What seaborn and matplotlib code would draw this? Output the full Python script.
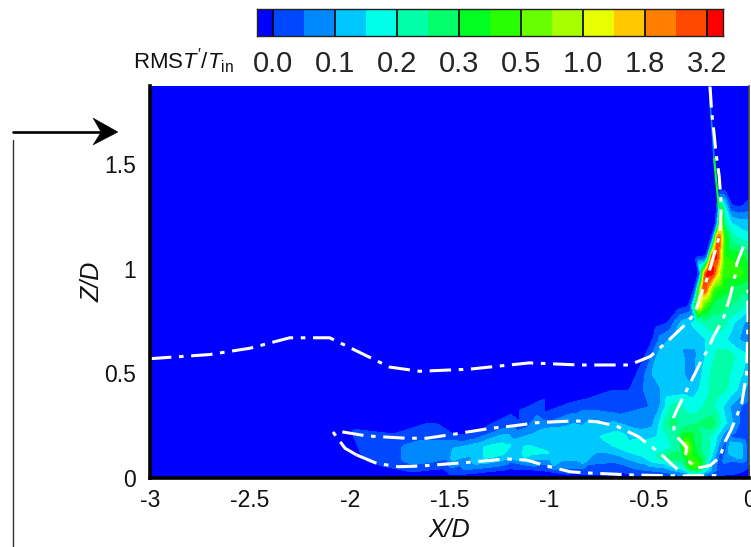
#!/usr/bin/env python
# -*- coding: utf-8 -*-

import numpy as np
import pandas as pd
import matplotlib
matplotlib.use("Agg")
import matplotlib.pyplot as plt
import matplotlib.tri as mtri
from matplotlib.colors import ListedColormap
from matplotlib.lines import Line2D
from matplotlib.patches import Polygon
from matplotlib.ticker import MultipleLocator
import seaborn as sns

W, H = 751, 547

band_colors = ["#0000ff", "#0048ff", "#0088ff", "#00c8ff", "#00ffe8", "#00ffa8",
               "#00ff68", "#00ff20", "#28ff00", "#68ff00", "#a8ff00", "#e8ff00",
               "#ffc800", "#ff8000", "#ff4800", "#ff0000"]
bar_labels = ["0.0", "0.1", "0.2", "0.3", "0.5", "1.0", "1.8", "3.2"]

# colour band, row by row (z, x positions, band number)
row_z = [0.0, 0.035, 0.065, 0.1, 0.15, 0.2, 0.26, 0.34, 0.42, 0.5, 0.58, 0.66, 0.74,
         0.82, 0.9, 0.98, 1.06, 1.14, 1.22, 1.3, 1.38, 1.87]
row_x = [
    [-3, -1.5, -0.6, -0.4, -0.3, -0.25, -0.2, 0],
    [-0.83, -0.5, -0.33, -0.26, -0.2, -0.15, 0],
    [-0.83, -0.5, -0.33, -0.285, -0.25, -0.2, -0.15, -0.05, 0],
    [-0.83, -0.53, -0.43, -0.396, -0.33, -0.296, -0.262, -0.212, -0.18, -0.146, -0.112, -0.045, 0],
    [-0.75, -0.66, -0.63, -0.53, -0.42, -0.345, -0.32, -0.262, -0.18, -0.146, -0.12, -0.087, -0.05, 0],
    [-0.83, -0.75, -0.66, -0.53, -0.46, -0.38, -0.33, -0.295, -0.262, -0.212, -0.146, -0.112, -0.062, 0],
    [-0.83, -0.5, -0.46, -0.42, -0.38, -0.33, -0.262, -0.18, -0.13, -0.095, -0.05, 0],
    [-0.83, -0.7, -0.5, -0.445, -0.42, -0.38, -0.33, -0.262, -0.2, -0.13, -0.095, -0.045, 0],
    [-1.0, -0.6, -0.53, -0.44, -0.3, -0.25, -0.196, -0.16, -0.11, -0.06, -0.02, 0],
    [-3, -0.66, -0.56, -0.52, -0.49, -0.34, -0.31, -0.28, -0.26, -0.21, -0.18, -0.12, -0.07, -0.03, 0],
    [-0.6, -0.52, -0.49, -0.45, -0.34, -0.31, -0.28, -0.25, -0.19, -0.15, -0.12, -0.07, -0.03, 0],
    [-0.56, -0.48, -0.44, -0.37, -0.25, -0.18, -0.11, -0.05, 0],
    [-0.48, -0.41, -0.38, -0.33, -0.26, -0.2, -0.13, -0.1, -0.05, 0],
    [-0.36, -0.3, -0.285, -0.265, -0.25, -0.22, -0.18, -0.1, -0.05, 0],
    [-0.33, -0.27, -0.255, -0.24, -0.225, -0.205, -0.18, -0.13, -0.05, 0],
    [-0.3, -0.247, -0.235, -0.225, -0.21, -0.18, -0.16, -0.13, -0.05, 0],
    [-0.27, -0.21, -0.2, -0.19, -0.18, -0.16, -0.145, -0.12, -0.05, 0],
    [-0.24, -0.185, -0.17, -0.16, -0.145, -0.125, -0.08, 0],
    [-0.21, -0.16, -0.15, -0.14, -0.125, -0.09, -0.05, 0],
    [-0.2, -0.155, -0.145, -0.125, -0.09, -0.055, -0.02, 0],
    [-0.18, -0.14, -0.115, 0],
    [-3, -0.5, 0],
]
row_band = [
    [0, 0, 0, 0.3, 1, 1, 0.3, 0],
    [1, 1.5, 3, 6, 3, 1, 0.3],
    [2.5, 3, 5, 9, 8, 3, 1, 1, 0.7],
    [3, 3.5, 5, 6, 6, 8, 7, 5, 3, 1, 2, 3, 1],
    [3, 3.6, 4, 3.6, 4, 5, 10, 6, 4, 2, 1, 3.5, 3.5, 1],
    [3, 3.5, 4, 3.4, 3.5, 5, 7, 7, 6, 5, 3, 1.5, 1, 0.3],
    [2.4, 2, 3, 5, 6, 5, 5.5, 6, 4, 3, 1.5, 1],
    [1, 1, 1.5, 2.5, 3.5, 5, 4.5, 4, 5, 3.5, 2.5, 1.5, 1],
    [0, 0.5, 1.5, 2.5, 3, 3.5, 4.5, 5, 4.5, 3.5, 2.5, 2],
    [0, 0, 0.5, 1.5, 2.5, 3, 2, 2, 3, 4, 5, 5, 4, 3.5, 3],
    [0, 0.5, 1.5, 3, 3, 2, 2, 3, 4, 5, 5.5, 4.5, 4, 3],
    [0, 0.5, 2, 3, 3, 4, 3.5, 2.5, 2],
    [0, 0.5, 1.5, 3, 4, 5, 5, 4, 3, 2],
    [0, 0.5, 3, 8, 12, 8, 6, 5.5, 5, 4],
    [0, 0.5, 6, 12, 15, 12, 8, 7, 6, 6],
    [0, 0.5, 7, 13, 15, 15, 12, 8, 8, 7],
    [0, 0.5, 7, 13, 15, 15, 12, 7.5, 7, 6],
    [0, 0.5, 9, 15, 14, 8, 5, 4],
    [0, 0.5, 8, 11, 5, 3.5, 3, 3],
    [0, 0.5, 7, 4, 0.6, 0.3, 0.6, 0.8],
    [0, 0.3, 0, 0],
    [0, 0, 0],
]

# long thin plume on the left, points traced along the band edges
plume_x = [-2.081, -1.98, -1.78, -1.48, -1.397, -1.146, -1.03, -0.896, -0.83, -0.596,
           -2.031, -1.915, -1.815, -1.531, -1.197, -1.031, -0.9,
           -1.84, -1.73, -1.48, -1.18, -1.06, -0.83,
           -1.73, -1.447, -1.197, -1.114, -0.9,
           -1.664, -1.48, -1.18, -1.08, -1.03, -0.846, -0.546,
           -1.48, -1.197, -1.097, -0.98,
           -1.48, -1.33, -1.18, -1.113, -0.98, -1.33, -1.23, -1.13,
           -0.87, -0.78, -0.729,
           -1.25, -1.1,
           -2.3, -2.2, -2.0, -1.6, -1.2, -1.0, -2.2, -1.7, -1.2]
plume_z = [0.213, 0.232, 0.21, 0.205, 0.205, 0.269, 0.309, 0.357, 0.373, 0.421,
           0.15, 0.086, 0.054, 0.046, 0.078, 0.038, 0.02,
           0.118, 0.158, 0.181, 0.253, 0.301, 0.325,
           0.078, 0.062, 0.078, 0.062, 0.045,
           0.102, 0.142, 0.182, 0.213, 0.237, 0.253, 0.23,
           0.078, 0.086, 0.07, 0.054,
           0.118, 0.15, 0.173, 0.157, 0.118, 0.09, 0.11, 0.094,
           0.213, 0.232, 0.181,
           0.14, 0.125,
           0.2, 0.1, 0.3, 0.3, 0.33, 0.42, 0.02, 0.01, 0.03]
plume_band = [0.5, 0.5, 0.5, 0.5, 0.5, 0.5, 0.5, 0.5, 0.5, 0.5,
              0.5, 0.5, 0.5, 0.5, 0.5, 0.5, 0.5,
              1.5, 1.5, 1.5, 1.5, 1.5, 1.5,
              1.5, 1.5, 1.5, 1.5, 1.5,
              2.5, 2.5, 2.5, 2.5, 2.5, 2.5, 2.5,
              2.5, 2.5, 2.5, 2.5,
              3.5, 3.5, 3.5, 3.5, 3.5, 3.5, 3.5, 3.5,
              3.5, 3.5, 3.5,
              4.2, 4,
              0, 0, 0, 0, 0, 0, 0, 0, 0]

# thin coloured streaks running along the upper white curve
green_streak_x = [-0.152, -0.175]
green_streak_z = [1.3, 1.53]
blue_streak_x = [-0.175, -0.2]
blue_streak_z = [1.53, 1.87]

# white dash-dot curves
upper_x = [-3, -2.7, -2.5, -2.3, -2.1, -1.95, -1.8, -1.65, -1.4, -1.1, -0.85, -0.6, -0.496,
           -0.4, -0.312, -0.27, -0.245, -0.212, -0.178, -0.145, -0.14, -0.142, -0.149, -0.165,
           -0.175, -0.187, -0.195]
upper_z = [0.57, 0.59, 0.62, 0.67, 0.67, 0.6, 0.53, 0.51, 0.52, 0.55, 0.54, 0.54, 0.58,
           0.66, 0.74, 0.79, 0.866, 0.946, 1.057, 1.169, 1.28, 1.345, 1.44, 1.55,
           1.646, 1.75, 1.87]
inner_x = [-1.965, -2.023, -2.08, -2.048, -1.915, -1.715, -1.615, -1.48, -1.297, -1.189, -1.064,
           -0.897, -0.863, -0.763, -0.663, -0.553, -0.445, -0.378, -0.345]
inner_z = [0.11, 0.142, 0.215, 0.222, 0.201, 0.19, 0.19, 0.209, 0.237, 0.248, 0.264,
           0.272, 0.272, 0.269, 0.248, 0.197, 0.118, 0.058, 0.03]
lower_x = [-1.965, -1.865, -1.757, -1.648, -1.43, -1.214, -1.114, -1.03, -0.897, -0.83, -0.596,
           -0.363, -0.143]
lower_z = [0.11, 0.07, 0.054, 0.057, 0.073, 0.091, 0.086, 0.062, 0.03, 0.025, 0.015, 0.01, 0.012]
loop_x = [-0.028, -0.062, -0.07, -0.095, -0.128, -0.178, -0.203, -0.237, -0.27, -0.312, -0.345,
          -0.378, -0.375, -0.354, -0.312, -0.32, -0.262, -0.195, -0.145, -0.12, -0.086, -0.036,
          -0.012, -0.01, -0.005, -0.005]
loop_z = [1.105, 1.022, 0.965, 0.866, 0.762, 0.675, 0.62, 0.564, 0.5, 0.42, 0.357,
          0.29, 0.23, 0.19, 0.147, 0.095, 0.047, 0.06, 0.1, 0.173, 0.238, 0.357,
          0.5, 0.565, 0.75, 0.9]


def px_to_fig(x, y):
    return x / W, 1 - y / H


def px_rect(left, top, right, bottom):
    return [left / W, 1 - bottom / H, (right - left) / W, (bottom - top) / H]


def field_frame():
    """Aduna toate punctele citite intr-un singur tabel."""
    xs, zs, bands = [], [], []
    for z, x_list, band_list in zip(row_z, row_x, row_band):
        xs.extend(x_list)
        zs.extend([z] * len(x_list))
        bands.extend(band_list)
    xs.extend(plume_x)
    zs.extend(plume_z)
    bands.extend(plume_band)
    return pd.DataFrame({"x": xs, "z": zs, "band": bands})


def soften(grid):
    """Rotunjeste colturile triunghiurilor, doar pentru aspect."""
    kernel = np.array([1, 4, 6, 4, 1]) / 16.0
    padded = np.pad(grid, 2, mode="edge")
    padded = np.apply_along_axis(lambda v: np.convolve(v, kernel, mode="same"), 0, padded)
    padded = np.apply_along_axis(lambda v: np.convolve(v, kernel, mode="same"), 1, padded)
    return padded[2:-2, 2:-2]


def draw_field(ax, cmap):
    df = field_frame()
    tri = mtri.Triangulation(df["x"], df["z"])
    grid_x, grid_z = np.meshgrid(np.linspace(-3, 0, 600), np.linspace(0, 1.873, 392))
    grid = mtri.LinearTriInterpolator(tri, df["band"].to_numpy())(grid_x, grid_z)
    grid = soften(np.ma.filled(grid, 0.0))
    ax.contourf(grid_x, grid_z, grid, levels=np.arange(-0.5, 16.5, 1.0), cmap=cmap)


def draw_colorbar(fig, cmap):
    cax = fig.add_axes(px_rect(257, 9, 723, 36))
    cells = np.arange(len(band_colors)).reshape(1, -1)
    sns.heatmap(cells, cmap=cmap, cbar=False, ax=cax, vmin=-0.5, vmax=15.5)
    cax.set_xlim(0.5, 15.5)
    cax.set_yticks([])
    edges = np.arange(1, 16, 2)
    cax.vlines(edges, 0, 1, color="black", lw=1.2)
    cax.set_xticks(edges)
    cax.set_xticklabels(bar_labels, rotation=0, fontsize=21)
    cax.tick_params(axis="x", length=0, pad=10)
    for spine in cax.spines.values():
        spine.set_visible(True)
        spine.set_linewidth(1.0)
        spine.set_color("#222222")


def draw_arrow(fig):
    fig.add_artist(Line2D(*zip(px_to_fig(13, 132), px_to_fig(100, 132)), color="black", lw=1.9))
    fig.add_artist(Line2D(*zip(px_to_fig(13, 140), px_to_fig(13, 547)), color="#333333", lw=1.0))
    head = [px_to_fig(118, 132), px_to_fig(93, 118), px_to_fig(101, 132), px_to_fig(93, 145)]
    fig.add_artist(Polygon(head, closed=True, facecolor="black", edgecolor="black",
                           lw=0.3, transform=fig.transFigure))


def main():
    sns.set_theme(style="ticks")
    plt.rcParams["font.family"] = ["Liberation Sans", "DejaVu Sans"]
    plt.rcParams["mathtext.fontset"] = "custom"
    plt.rcParams["mathtext.rm"] = "Liberation Sans"
    plt.rcParams["mathtext.it"] = "Liberation Sans:italic"

    fig = plt.figure(figsize=(W / 100, H / 100), dpi=100)
    ax = fig.add_axes(px_rect(150, 86, 749, 478))
    cmap = ListedColormap(band_colors)

    draw_field(ax, cmap)

    sns.lineplot(x=green_streak_x, y=green_streak_z, ax=ax, color=band_colors[7], lw=1.6)
    sns.lineplot(x=blue_streak_x, y=blue_streak_z, ax=ax, color=band_colors[2], lw=1.2)

    dash_dot = (0, (7, 2.5, 1.5, 2.5))
    for xs, zs in [(upper_x, upper_z), (inner_x, inner_z), (lower_x, lower_z), (loop_x, loop_z)]:
        curve = pd.DataFrame({"x": xs, "z": zs})
        sns.lineplot(data=curve, x="x", y="z", sort=False, estimator=None, ax=ax,
                     color="white", lw=2.2, linestyle=dash_dot)

    ax.set_xlim(-3, 0)
    ax.set_ylim(0, 1.873)
    ax.set_xticks([-3, -2.5, -2, -1.5, -1, -0.5, 0])
    ax.set_xticklabels(["-3", "-2.5", "-2", "-1.5", "-1", "-0.5", "0"])
    ax.set_yticks([0, 0.5, 1, 1.5])
    ax.set_yticklabels(["0", "0.5", "1", "1.5"])
    ax.xaxis.set_minor_locator(MultipleLocator(0.1))
    ax.yaxis.set_minor_locator(MultipleLocator(0.1))
    ax.tick_params(which="major", direction="in", length=8.5, width=1.1, color="#111111",
                   labelsize=16.5, labelcolor="#111111")
    ax.tick_params(which="minor", direction="in", length=2.5, width=0.9, color="#111111")
    ax.tick_params(axis="x", which="major", pad=8)
    ax.tick_params(axis="y", which="major", pad=10)
    ax.set_xlabel("X/D", fontsize=18, style="italic", labelpad=4, color="#111111")
    ax.set_ylabel("Z/D", fontsize=18, style="italic", labelpad=0, color="#111111")
    ax.spines["left"].set_linewidth(2.6)
    ax.spines["bottom"].set_linewidth(2.6)
    ax.spines["left"].set_color("black")
    ax.spines["bottom"].set_color("black")
    ax.spines["top"].set_visible(False)
    ax.spines["right"].set_visible(True)
    ax.spines["right"].set_linewidth(1.2)
    ax.spines["right"].set_color("#444444")

    draw_colorbar(fig, cmap)
    fig.text(133 / W, 1 - 69 / H, r"RMS$\mathit{T'}/\mathit{T}_{\mathrm{in}}$", fontsize=16, color="#111111")
    draw_arrow(fig)

    fig.savefig("out.png", dpi=100)
    plt.close(fig)


if __name__ == "__main__":
    main()
